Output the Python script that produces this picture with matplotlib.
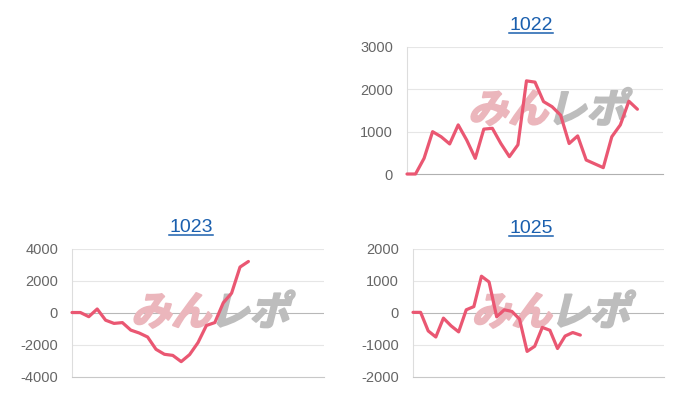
import matplotlib
matplotlib.use("Agg")
import matplotlib.pyplot as plt
from matplotlib.lines import Line2D
from matplotlib.textpath import TextPath
from matplotlib.patches import PathPatch
from matplotlib.font_manager import FontProperties
from matplotlib.transforms import Affine2D

# data
titles = ["1022", "1023", "1025"]
values_1022 = [0, 0, 370, 1000, 880, 710, 1160, 800, 370, 1060, 1080, 720, 410, 690,
               2200, 2170, 1710, 1590, 1390, 720, 900, 330, 240, 150, 880, 1160, 1720, 1530]
values_1023 = [30, 30, -230, 250, -450, -650, -600, -1070, -1250, -1500, -2270, -2580,
               -2650, -3040, -2600, -1850, -780, -600, 630, 1240, 2870, 3220]
values_1025 = [20, 20, -560, -750, -160, -400, -590, 100, 200, 1150, 970, -120, 100, 50,
               -190, -1200, -1040, -450, -540, -1110, -720, -610, -690]
n_labels = [31, 31, 34]
y_ticks_1022 = [0, 1000, 2000, 3000]
y_ticks_1023 = [-4000, -2000, 0, 2000, 4000]
y_ticks_1025 = [-2000, -1000, 0, 1000, 2000]

W, H = 700, 400
LINE = "#ea5772"
TITLE_BLUE = "#1a5fae"

plt.rcParams["font.family"] = ["Liberation Sans", "DejaVu Sans"]

fig = plt.figure(figsize=(7, 4), dpi=100)


def px_axes(left, top, right, bottom):
    return fig.add_axes([left / W, 1 - bottom / H, (right - left) / W, (bottom - top) / H])


def style_axes(ax, values, n, ticks):
    ax.plot(range(len(values)), values, color=LINE, lw=2.3, solid_joinstyle="round",
            solid_capstyle="round", zorder=3, clip_on=False)
    ax.set_xlim(0, n - 1)
    ax.set_ylim(ticks[0], ticks[-1])
    ax.set_yticks(ticks)
    ax.set_yticklabels([str(t) for t in ticks])
    ax.set_xticks([])
    ax.tick_params(axis="y", length=0, pad=10, labelsize=10.5, labelcolor="#666666")
    for s in ["top", "right"]:
        ax.spines[s].set_visible(False)
    ax.spines["left"].set_color("#dddddd")
    ax.spines["left"].set_linewidth(0.8)
    ax.spines["bottom"].set_color("#c8c8c8")
    ax.spines["bottom"].set_linewidth(0.8)
    for t in ticks[1:]:
        col = "#b8b8b8" if t == 0 else "#e6e6e6"
        ax.axhline(t, color=col, lw=0.8, zorder=1)
    if ticks[0] == 0:
        ax.spines["bottom"].set_color("#b0b0b0")


def watermark(ax):
    fp = FontProperties(family="Noto Sans CJK JP", weight="bold")
    bb = ax.get_position()
    cx = (bb.x0 + bb.x1) / 2 * W + 11
    cy = (bb.y0 + bb.y1) / 2 * H + 4
    size = 40
    p1 = TextPath((0, 0), "みん", size=size, prop=fp)
    p2 = TextPath((0, 0), "レポ", size=size, prop=fp)
    w1 = p1.get_extents().x1
    w2 = p2.get_extents().x1
    total = w1 + w2
    x0 = cx - total / 2
    y0 = cy - size * 0.4
    t1 = Affine2D().skew_deg(14, 0).translate(x0, y0)
    t2 = Affine2D().skew_deg(14, 0).translate(x0 + w1, y0)
    ax.add_patch(PathPatch(p1, transform=t1, fc="#ebb6bc", ec="#ebb6bc", lw=1.5,
                           joinstyle="round", zorder=2))
    ax.add_patch(PathPatch(p2, transform=t2, fc="#bdbdbd", ec="#bdbdbd", lw=1.5,
                           joinstyle="round", zorder=2))


def title(text, cx, baseline, underline):
    t = fig.text(cx / W, 1 - baseline / H, text, ha="center", va="baseline",
                 fontsize=14, color=TITLE_BLUE)
    fig.canvas.draw()
    bb = t.get_window_extent()
    fig.add_artist(Line2D([bb.x0 / W, bb.x1 / W], [1 - underline / H] * 2,
                          transform=fig.transFigure, color=TITLE_BLUE, lw=1.1))


ax1 = px_axes(407, 47, 663, 174)
style_axes(ax1, values_1022, n_labels[0], y_ticks_1022)
ax2 = px_axes(72, 249, 324, 377)
style_axes(ax2, values_1023, n_labels[1], y_ticks_1023)
ax3 = px_axes(413, 249, 664, 377)
style_axes(ax3, values_1025, n_labels[2], y_ticks_1025)

for ax in (ax1, ax2, ax3):
    watermark(ax)

title(titles[0], 531, 30, 32.5)
title(titles[1], 191, 232, 235)
title(titles[2], 531, 233, 236)

fig.savefig("out.png", dpi=100)
